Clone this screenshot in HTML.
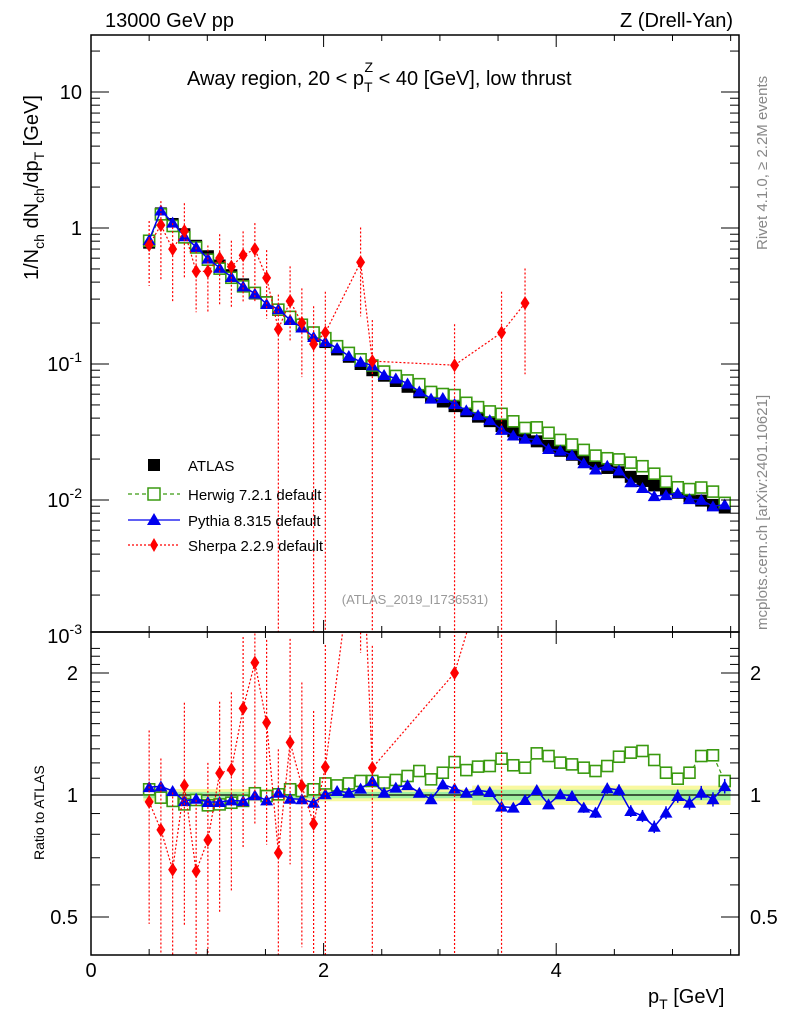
<!DOCTYPE html>
<html><head><meta charset="utf-8"><style>
html,body{margin:0;padding:0;background:#fff;}
svg{display:block;font-family:"Liberation Sans",sans-serif;}
</style></head><body>
<svg id="c" width="786" height="1024" viewBox="0 0 786 1024">
<g id="bands"></g>
<g id="marks"></g>
<g id="axes"></g>
<text x="105" y="27" font-size="20">13000 GeV pp</text>
<text x="733" y="27" font-size="20" text-anchor="end">Z (Drell-Yan)</text>
<text x="187" y="85" font-size="20">Away region, 20 &lt; p<tspan font-size="14" dy="7">T</tspan><tspan font-size="14" dx="-8" dy="-20">Z</tspan><tspan dy="13"> &lt; 40 [GeV], low thrust</tspan></text>
<text transform="translate(38,280) rotate(-90)" font-size="20">1/N<tspan font-size="14" dy="6">ch</tspan><tspan dy="-6"> dN</tspan><tspan font-size="14" dy="6">ch</tspan><tspan dy="-6">/dp</tspan><tspan font-size="14" dy="6">T</tspan><tspan dy="-6"> [GeV]</tspan></text>
<text transform="translate(44,860) rotate(-90)" font-size="14">Ratio to ATLAS</text>
<text transform="translate(767,250) rotate(-90)" font-size="15" fill="#888">Rivet 4.1.0, ≥ 2.2M events</text>
<text transform="translate(767,630) rotate(-90)" font-size="15" fill="#888">mcplots.cern.ch [arXiv:2401.10621]</text>
<text x="415" y="604" font-size="13" fill="#999" text-anchor="middle">(ATLAS_2019_I1736531)</text>
<text x="648" y="1003" font-size="20">p<tspan font-size="14" dy="6">T</tspan><tspan dy="-6"> [GeV]</tspan></text>
<g id="legend">
<rect x="148" y="459" width="12" height="12" fill="#000"/>
<text x="188" y="471" font-size="15">ATLAS</text>
<line x1="128" y1="494" x2="180" y2="494" stroke="#3a9a10" stroke-dasharray="4,3" stroke-width="1.3"/>
<rect x="148" y="488" width="12" height="12" fill="#fff" stroke="#3a9a10" stroke-width="1.5"/>
<text x="188" y="500" font-size="15">Herwig 7.2.1 default</text>
<line x1="128" y1="520" x2="180" y2="520" stroke="#0000ee" stroke-width="1.3"/>
<polygon points="154,513 161,525 147,525" fill="#0000ee"/>
<text x="188" y="526" font-size="15">Pythia 8.315 default</text>
<line x1="128" y1="545" x2="180" y2="545" stroke="#f00" stroke-dasharray="2,2" stroke-width="1.3"/>
<polygon points="154,538 158,545 154,552 150,545" fill="#f00"/>
<text x="188" y="551" font-size="15">Sherpa 2.2.9 default</text>
</g>
</svg>
<script>
const pt = [0.500,0.601,0.702,0.803,0.904,1.005,1.106,1.207,1.308,1.409,1.510,1.611,1.712,1.813,1.914,2.015,2.116,2.217,2.318,2.419,2.520,2.621,2.722,2.823,2.924,3.025,3.126,3.227,3.328,3.429,3.530,3.631,3.732,3.833,3.934,4.035,4.136,4.237,4.338,4.439,4.540,4.641,4.742,4.843,4.944,5.045,5.146,5.247,5.348,5.449];
const atlas = [0.78,1.28,1.07,0.9,0.74,0.62,0.53,0.45,0.385,0.33,0.285,0.25,0.215,0.19,0.165,0.145,0.128,0.113,0.1,0.09,0.082,0.075,0.068,0.062,0.057,0.053,0.049,0.045,0.041,0.038,0.035,0.032,0.029,0.027,0.025,0.023,0.0215,0.02,0.0185,0.0172,0.016,0.0148,0.0138,0.0128,0.012,0.0113,0.0106,0.0099,0.0092,0.0088];
const herwigRatio = [1.033,0.985,0.967,0.948,0.972,0.943,0.948,0.957,0.967,1.010,0.994,1.004,1.033,1.023,1.033,1.068,1.056,1.068,1.083,1.083,1.073,1.089,1.114,1.146,1.093,1.135,1.206,1.152,1.175,1.179,1.229,1.184,1.168,1.267,1.248,1.202,1.190,1.168,1.146,1.179,1.243,1.272,1.284,1.220,1.135,1.097,1.135,1.248,1.253,1.083];
const pythiaRatio = [1.046,1.05,1.023,0.966,0.979,0.961,0.961,0.97,0.966,0.998,0.97,1.013,0.979,0.976,0.957,1.004,1.023,1.013,1.037,1.083,1.013,1.043,1.058,1.013,0.976,1.062,1.037,1.013,1.027,1.017,0.936,0.931,0.972,1.029,0.948,1.004,0.994,0.931,0.905,1.039,1.029,0.913,0.888,0.835,0.905,0.994,0.957,1.013,0.976,1.052];
const sherpaBin = [0,1,2,3,4,5,6,7,8,9,10,11,12,13,14,15,18,19,26,30,32];
const sherpaVal = [0.75,1.05,0.7,0.95,0.48,0.48,0.6,0.52,0.63,0.7,0.43,0.18,0.29,0.2,0.14,0.17,0.56,0.105,0.098,0.17,0.28];
const sherpaErrUp = [0.5,0.5,0.55,0.6,0.5,0.55,0.5,0.55,0.5,0.55,0.6,0.8,0.8,0.8,0.9,1.0,0.8,1.0,1.0,1.0,0.8];
const sherpaErrDn = [0.5,0.6,0.6,0.55,0.5,0.5,0.55,0.5,0.55,0.6,0.5,1,0.5,0.6,1,1,0.6,1,1,1,0.7];
const yTickVals = [10,1,0.1,0.01,0.001];
const yTickLabels = ["10","1","10^-1","10^-2","10^-3"];
const rTickVals = [2,1,0.5];
const rTickLabels = ["2","1","0.5"];
const xTickVals = [0,2,4];

const L=91,R=739,T=35,B=632,RB=955;
const NS="http://www.w3.org/2000/svg";
const X=v=>L+(v)*116.3;
const Y=v=>228-Math.log10(v)*136;
const RY=v=>795-Math.log2(v)*122;
function mk(tag,attrs,parent){const e=document.createElementNS(NS,tag);for(const k in attrs)e.setAttribute(k,attrs[k]);parent.appendChild(e);return e;}
const marks=document.getElementById('marks'), axes=document.getElementById('axes'), bands=document.getElementById('bands');

// bands
let yp=[],gp=[],yb=[],gb=[];
pt.forEach((p,i)=>{const w=p<3.3?0.035:0.055,g=p<3.3?0.018:0.03;const x0=X(p-0.05),x1=X(p+0.05);
yp.push(x0+','+RY(1+w),x1+','+RY(1+w));yb.unshift(x1+','+RY(1-w),x0+','+RY(1-w));
gp.push(x0+','+RY(1+g),x1+','+RY(1+g));gb.unshift(x1+','+RY(1-g),x0+','+RY(1-g));});
let e=mk('polygon',{points:yp.concat(yb).join(' '),fill:'#f8f8a0'},bands);


e=mk('polygon',{points:gp.concat(gb).join(' '),fill:'#a0f0a0'},bands);


mk('line',{x1:L,x2:R,y1:RY(1),y2:RY(1),stroke:'#000','stroke-width':1.3},bands);

// ATLAS squares
pt.forEach((p,i)=>{e=mk('rect',{x:X(p)-6,y:Y(atlas[i])-6,width:12,height:12,fill:'#000'},marks);

});
// Herwig
mk('polyline',{points:pt.map((p,i)=>X(p)+','+Y(atlas[i]*herwigRatio[i])).join(' '),fill:'none',stroke:'#3a9a10','stroke-dasharray':'4,3','stroke-width':1.2},marks);
mk('polyline',{points:pt.map((p,i)=>X(p)+','+RY(herwigRatio[i])).join(' '),fill:'none',stroke:'#3a9a10','stroke-dasharray':'4,3','stroke-width':1.2},marks);
pt.forEach((p,i)=>{[Y(atlas[i]*herwigRatio[i]),RY(herwigRatio[i])].forEach((yy,k)=>{
e=mk('rect',{x:X(p)-5.5,y:yy-5.5,width:11,height:11,fill:'#fff',stroke:'#3a9a10','stroke-width':1.6},marks);

});});
// Pythia
mk('polyline',{points:pt.map((p,i)=>X(p)+','+Y(atlas[i]*pythiaRatio[i])).join(' '),fill:'none',stroke:'#0000ee','stroke-width':1.5},marks);
mk('polyline',{points:pt.map((p,i)=>X(p)+','+RY(pythiaRatio[i])).join(' '),fill:'none',stroke:'#0000ee','stroke-width':1.5},marks);
pt.forEach((p,i)=>{const x=X(p);
if(p>3.3){const er=0.02+0.01*(p-3.3);mk('line',{x1:x,x2:x,y1:RY(pythiaRatio[i]*(1+er)),y2:RY(pythiaRatio[i]*(1-er)),stroke:'#0000ee','stroke-width':1.5},marks);}
[Y(atlas[i]*pythiaRatio[i]),RY(pythiaRatio[i])].forEach((yy,k)=>{
e=mk('polygon',{points:`${x},${yy-6} ${x+6.5},${yy+5} ${x-6.5},${yy+5}`,fill:'#0000ee'},marks);

});});
// Sherpa
const sPt=sherpaBin.map(b=>pt[b]);
const sRat=sherpaBin.map((b,j)=>sherpaVal[j]/atlas[b]);
const clip=mk('clipPath',{id:'rc'},marks);mk('rect',{x:L,y:B,width:R-L,height:RB-B},clip);
const cm=mk('clipPath',{id:'mc'},marks);mk('rect',{x:L,y:T,width:R-L,height:B-T},cm);
const rg=mk('g',{'clip-path':'url(#rc)'},marks), mg=mk('g',{'clip-path':'url(#mc)'},marks);
mk('polyline',{points:sPt.map((p,j)=>X(p)+','+Y(sherpaVal[j])).join(' '),fill:'none',stroke:'#f00','stroke-dasharray':'2,2','stroke-width':1.2},mg);
mk('polyline',{points:sPt.map((p,j)=>X(p)+','+RY(sRat[j])).join(' '),fill:'none',stroke:'#f00','stroke-dasharray':'2,2','stroke-width':1.2},rg);
sPt.forEach((p,j)=>{const x=X(p),v=sherpaVal[j],r=sRat[j];
const up=1+sherpaErrUp[j],dn=1-sherpaErrDn[j];
mk('line',{x1:x,x2:x,y1:Y(v*up),y2:dn>0.001?Y(v*dn):B,stroke:'#f00','stroke-dasharray':'2,2','stroke-width':1.2},mg);
mk('line',{x1:x,x2:x,y1:RY(r*up),y2:dn>0.001?RY(r*dn):RB,stroke:'#f00','stroke-dasharray':'2,2','stroke-width':1.2},rg);
[[Y(v),mg,'sherpa-point'],[RY(r),rg,'sherpa-ratio-point']].forEach(([yy,g,n])=>{
e=mk('polygon',{points:`${x},${yy-7} ${x+4.5},${yy} ${x},${yy+7} ${x-4.5},${yy}`,fill:'#f00'},g);

});});

// frames
mk('rect',{x:L,y:T,width:R-L,height:B-T,fill:'none',stroke:'#000','stroke-width':1.5},axes);
mk('rect',{x:L,y:B,width:R-L,height:RB-B,fill:'none',stroke:'#000','stroke-width':1.5},axes);
for(let v=0;v<=5.5;v+=0.5){const x=X(v),big=(v%2===0)?12:6;
[[T,1],[B,-1],[B,1],[RB,-1]].forEach(([y0,d])=>mk('line',{x1:x,x2:x,y1:y0,y2:y0+d*big,stroke:'#000'},axes));}
xTickVals.forEach(v=>{e=mk('text',{x:X(v),y:977,'font-size':20,'text-anchor':'middle'},axes);e.textContent=v;

});
for(let d=-3;d<=1;d++){for(let m=1;m<10;m++){const v=m*Math.pow(10,d),y=Y(v);if(y<T||y>B)continue;const len=m===1?18:9;
mk('line',{x1:L,x2:L+len,y1:y,y2:y,stroke:'#000'},axes);mk('line',{x1:R,x2:R-len,y1:y,y2:y,stroke:'#000'},axes);}}
yTickVals.forEach((v,i)=>{const lab=yTickLabels[i];const p=lab.split('^');
e=mk('text',{x:82,y:Y(v)+7,'font-size':20,'text-anchor':'end'},axes);
if(p.length>1){e.innerHTML=p[0]+'<tspan font-size="14" dy="-9">'+p[1]+'</tspan>';}else e.textContent=lab;

});
for(let v=0.4;v<=2.31;v+=0.1){const y=RY(v);if(y<B||y>RB)continue;const big=[0.5,1,2].some(t=>Math.abs(t-v)<1e-6);const len=big?18:9;
mk('line',{x1:L,x2:L+len,y1:y,y2:y,stroke:'#000'},axes);mk('line',{x1:R,x2:R-len,y1:y,y2:y,stroke:'#000'},axes);}
rTickVals.forEach((v,i)=>{[[78,'end'],[750,'start']].forEach(([x,a])=>{
e=mk('text',{x:x,y:RY(v)+7,'font-size':20,'text-anchor':a},axes);e.textContent=rTickLabels[i];

});});
</script>
</body></html>
